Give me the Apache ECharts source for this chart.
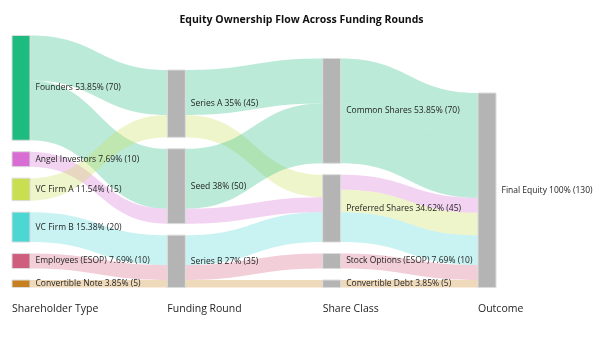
<!DOCTYPE html>
<html><head><meta charset="utf-8">
<script src="https://cdn.jsdelivr.net/npm/echarts@6/dist/echarts.min.js"></script>
<style>html,body{margin:0;padding:0;background:#fff}#c{width:603px;height:338px}</style>
</head><body><div id="c"></div>
<script>
// ---------- data ----------
const chartTitle = 'Equity Ownership Flow Across Funding Rounds';
const stageNames = ['Shareholder Type', 'Funding Round', 'Share Class', 'Outcome'];
const nodeNames = ['Founders', 'Angel Investors', 'VC Firm A', 'VC Firm B', 'Employees (ESOP)', 'Convertible Note',
  'Series A', 'Seed', 'Series B',
  'Common Shares', 'Preferred Shares', 'Stock Options (ESOP)', 'Convertible Debt',
  'Final Equity'];
const nodeStages = [0, 0, 0, 0, 0, 0, 1, 1, 1, 2, 2, 2, 2, 3];
const nodePercents = ['53.85%', '7.69%', '11.54%', '15.38%', '7.69%', '3.85%', '35%', '38%', '27%', '53.85%', '34.62%', '7.69%', '3.85%', '100%'];
const nodeColors = ['#1dbb80', '#d86ed3', '#c9de50', '#4dd7d3', '#cf5e7e', '#c7801f',
  '#b4b4b4', '#b4b4b4', '#b4b4b4', '#b4b4b4', '#b4b4b4', '#b4b4b4', '#b4b4b4', '#b4b4b4'];
const linkSources = ['Founders', 'Founders', 'Angel Investors', 'VC Firm A', 'VC Firm B', 'Employees (ESOP)', 'Convertible Note',
  'Series A', 'Series A', 'Seed', 'Seed', 'Series B', 'Series B', 'Series B',
  'Common Shares', 'Common Shares', 'Preferred Shares', 'Preferred Shares', 'Preferred Shares', 'Stock Options (ESOP)', 'Convertible Debt'];
const linkTargets = ['Series A', 'Seed', 'Seed', 'Series A', 'Series B', 'Series B', 'Series B',
  'Common Shares', 'Preferred Shares', 'Common Shares', 'Preferred Shares', 'Preferred Shares', 'Stock Options (ESOP)', 'Convertible Debt',
  'Final Equity', 'Final Equity', 'Final Equity', 'Final Equity', 'Final Equity', 'Final Equity', 'Final Equity'];
const linkValues = [30, 40, 10, 15, 20, 10, 5,
  30, 15, 40, 10, 20, 10, 5,
  30, 40, 10, 15, 20, 10, 5];
// shareholder each flow originates from (sets its colour)
const linkOrigins = ['Founders', 'Founders', 'Angel Investors', 'VC Firm A', 'VC Firm B', 'Employees (ESOP)', 'Convertible Note',
  'Founders', 'VC Firm A', 'Founders', 'Angel Investors', 'VC Firm B', 'Employees (ESOP)', 'Convertible Note',
  'Founders', 'Founders', 'Angel Investors', 'VC Firm A', 'VC Firm B', 'Employees (ESOP)', 'Convertible Note'];

// ---------- layout settings ----------
const LEFT = 12, RIGHT = 107, TOP = 35.5, BOTTOM = 50.5, NODE_W = 18, GAP = 11.5;
const FONT = '"Open Sans", "Noto Sans", sans-serif';

const chart = echarts.init(document.getElementById('c'), null, { renderer: 'canvas' });
const W = chart.getWidth() - LEFT - RIGHT;
const H = chart.getHeight() - TOP - BOTTOM;

// node values (max of in / out)
const nodeVal = nodeNames.map(n => {
  let i = 0, o = 0;
  linkValues.forEach((v, k) => { if (linkTargets[k] === n) i += v; if (linkSources[k] === n) o += v; });
  return Math.max(i, o);
});
const nStages = stageNames.length;
const stSum = [], stCnt = [];
for (let s = 0; s < nStages; s++) { stSum[s] = 0; stCnt[s] = 0; }
nodeNames.forEach((n, i) => { stSum[nodeStages[i]] += nodeVal[i]; stCnt[nodeStages[i]]++; });
let ky = Infinity;
for (let s = 0; s < nStages; s++) ky = Math.min(ky, (H - (stCnt[s] - 1) * GAP) / stSum[s]);
// bottom-align each column
const cursor = [];
for (let s = 0; s < nStages; s++) cursor[s] = H - (stSum[s] * ky + (stCnt[s] - 1) * GAP);
const nodes = nodeNames.map((n, i) => {
  const s = nodeStages[i];
  const y = cursor[s];
  cursor[s] += nodeVal[i] * ky + GAP;
  return {
    name: n, depth: s, localY: y / H,
    itemStyle: { color: nodeColors[i] }
  };
});
const colorOf = n => nodeColors[nodeNames.indexOf(n)];
const links = linkSources.map((s, k) => ({
  source: s, target: linkTargets[k], value: linkValues[k],
  lineStyle: { color: colorOf(linkOrigins[k]), opacity: 0.3 }
}));

const colStep = (W - NODE_W) / (nStages - 1);
const headers = stageNames.map((t, s) => ({
  type: 'text', left: LEFT + s * colStep, top: 304,
  style: { text: t, fill: '#1e1e1e', font: '10.5px ' + FONT }
}));

chart.setOption({
  animation: false,
  title: {
    text: chartTitle, left: 'center', top: 10,
    textStyle: { fontSize: 10.5, fontWeight: 'bold', color: '#111', fontFamily: FONT }
  },
  graphic: headers,
  series: [{
    type: 'sankey',
    left: LEFT, right: RIGHT, top: TOP, bottom: BOTTOM,
    nodeWidth: NODE_W, nodeGap: GAP, layoutIterations: 0,
    draggable: false,
    emphasis: { disabled: true },
    itemStyle: { borderColor: '#dcdcdc', borderWidth: 1 },
    label: {
      position: 'right', distance: 5, color: '#1e1e1e', fontSize: 8.5, fontFamily: FONT,
      formatter: p => p.name + ' ' + nodePercents[nodeNames.indexOf(p.name)] + ' (' + p.value + ')'
    },
    lineStyle: { curveness: 0.5 },
    data: nodes,
    links: links
  }]
});
</script></body></html>
